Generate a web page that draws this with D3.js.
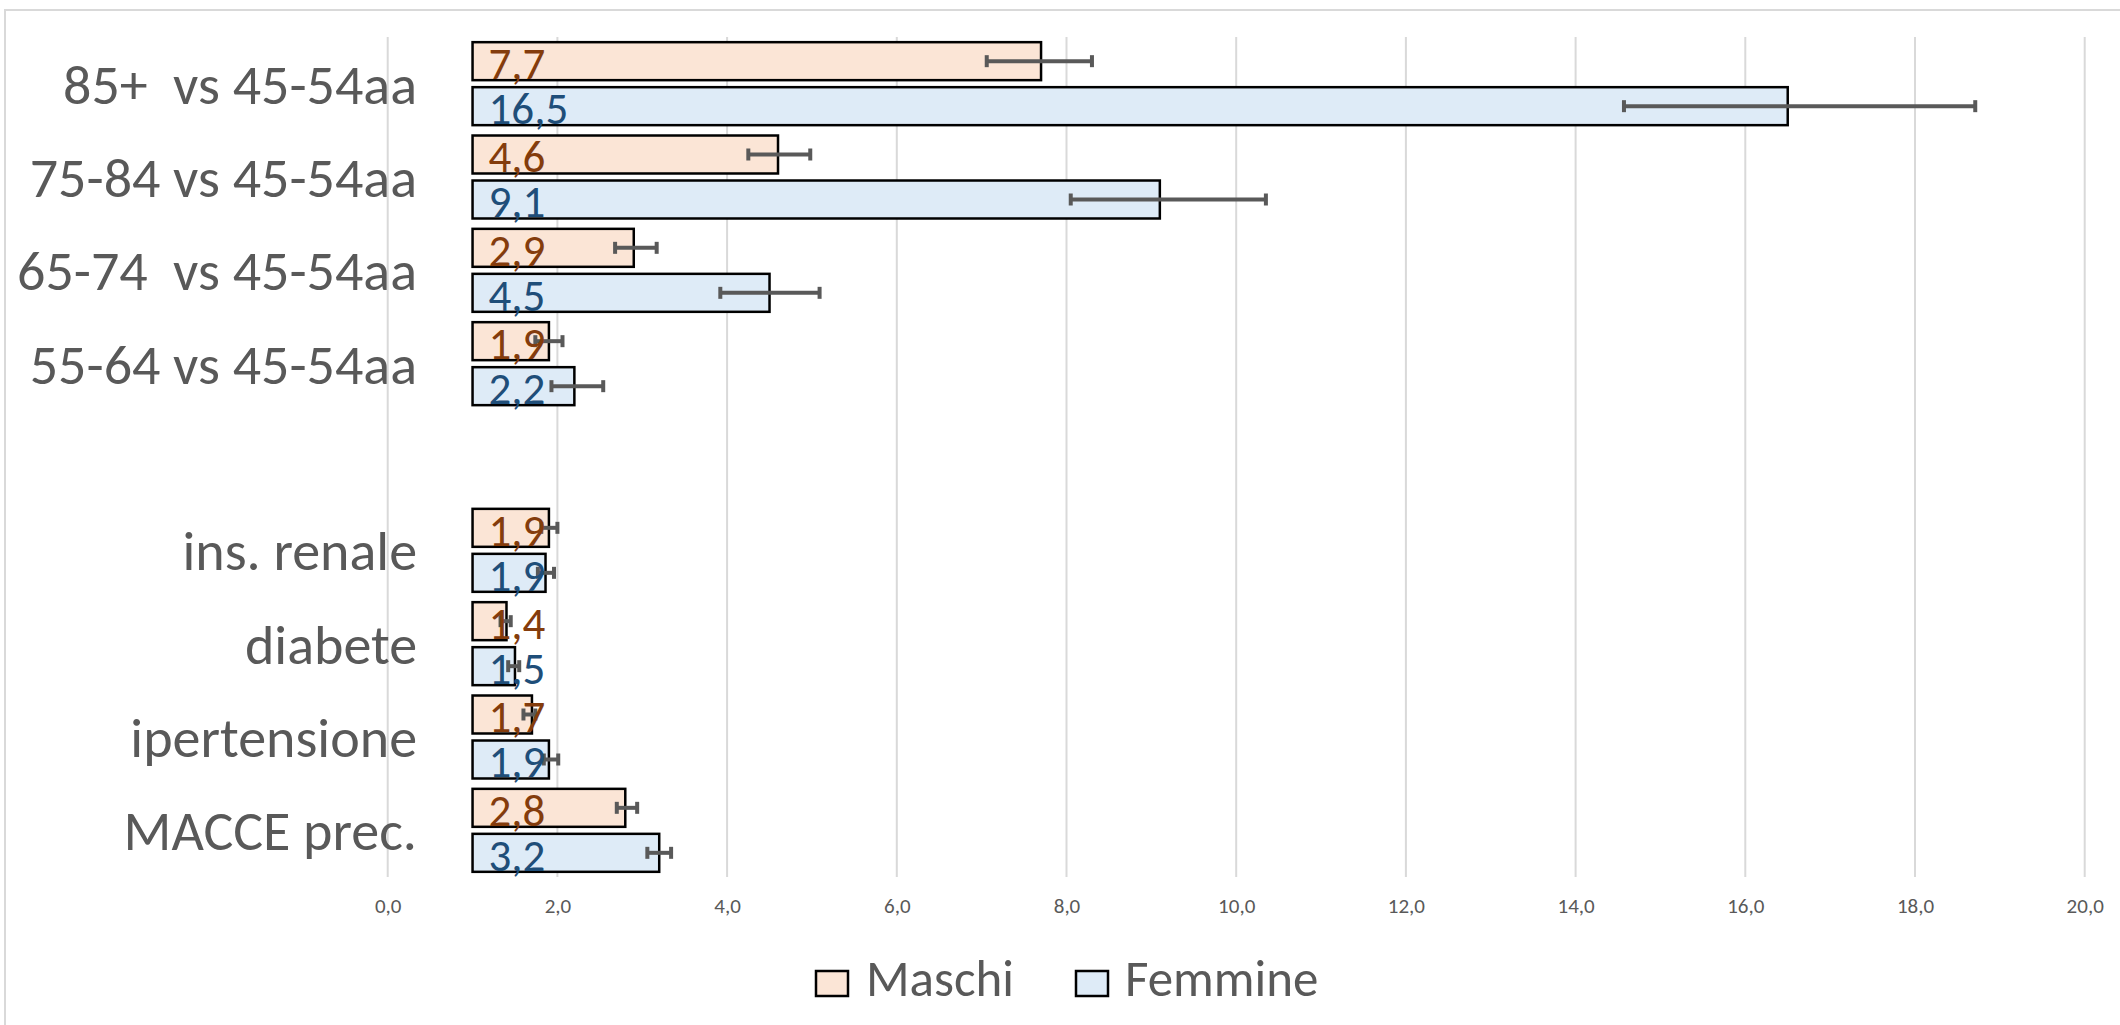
<!DOCTYPE html>
<html>
<head>
<meta charset="utf-8">
<script src="https://cdn.jsdelivr.net/npm/d3@7"></script>
<style>
  html, body { margin: 0; padding: 0; background: #ffffff; }
  svg { display: block; }
  text { font-family: Carlito, Lato, "Noto Sans", sans-serif; white-space: pre; }
</style>
</head>
<body>
<svg id="chart" width="2120" height="1025"></svg>
<script>
// ---- data ----
const categories = ["85+  vs 45-54aa", "75-84 vs 45-54aa", "65-74  vs 45-54aa", "55-64 vs 45-54aa", "", "ins. renale", "diabete", "ipertensione", "MACCE prec."];
const seriesNames = ["Maschi", "Femmine"];
const maschi      = [7.7, 4.6, 2.9, 1.9, null, 1.9, 1.4, 1.7, 2.8];
const femmine     = [16.5, 9.1, 4.5, 2.2, null, 1.86, 1.5, 1.9, 3.2];
const maschiLow   = [7.06, 4.25, 2.68, 1.74, null, 1.81, 1.33, 1.60, 2.70];
const maschiHigh  = [8.30, 4.98, 3.17, 2.06, null, 2.00, 1.45, 1.74, 2.94];
const femmineLow  = [14.57, 8.05, 3.92, 1.93, null, 1.77, 1.42, 1.84, 3.06];
const femmineHigh = [18.71, 10.35, 5.09, 2.54, null, 1.96, 1.55, 2.01, 3.34];
const xTicks = [0, 2, 4, 6, 8, 10, 12, 14, 16, 18, 20];
const baseValue = 1;

// ---- styles ----
const fills = { Maschi: "#FBE5D6", Femmine: "#DEEBF7" };
const labelColors = { Maschi: "#843C0C", Femmine: "#1F4E79" };
const gray = "#595959";

const svg = d3.select("#chart");
const locale = d3.formatLocale({ decimal: ",", thousands: ".", grouping: [3], currency: ["", "€"] });
const fmt = locale.format(".1f");

// chart border
svg.append("rect").attr("x", 5).attr("y", 10).attr("width", 2130).attr("height", 1030)
  .attr("fill", "none").attr("stroke", "#d9d9d9").attr("stroke-width", 2);

const x = d3.scaleLinear().domain([0, 20]).range([387.7, 2084.7]);
const y = d3.scaleBand().domain(categories.map((c, i) => i)).range([37, 877]).paddingInner(0).paddingOuter(0);
const ySub = d3.scaleBand().domain(seriesNames).range([0, y.bandwidth()]).paddingInner(0.156).paddingOuter(0.115);

// gridlines
svg.append("g").selectAll("line").data(xTicks).join("line")
  .attr("x1", d => x(d)).attr("x2", d => x(d))
  .attr("y1", 37).attr("y2", 877)
  .attr("stroke", "#d9d9d9").attr("stroke-width", 2);

// x axis labels
const xAxis = d3.axisBottom(x).tickValues(xTicks).tickFormat(fmt).tickSize(0).tickPadding(0);
const gx = svg.append("g").attr("transform", "translate(0,913)").call(xAxis);
gx.select(".domain").remove();
gx.selectAll("text").attr("dy", null).attr("y", 0)
  .attr("fill", gray).style("font-size", "21px").style("font-family", "Carlito, Lato, sans-serif");

// category labels
svg.append("g").selectAll("text").data(categories).join("text")
  .attr("x", 417)
  .attr("y", (d, i) => y(i) + y.bandwidth() / 2 + 20)
  .attr("text-anchor", "end")
  .attr("fill", gray)
  .style("font-size", "56px")
  .text(d => d);

// build rows
const rows = [];
categories.forEach((c, i) => {
  if (maschi[i] != null) rows.push({ i, s: "Maschi", v: maschi[i], lo: maschiLow[i], hi: maschiHigh[i] });
  if (femmine[i] != null) rows.push({ i, s: "Femmine", v: femmine[i], lo: femmineLow[i], hi: femmineHigh[i] });
});

const bars = svg.append("g");
bars.selectAll("rect").data(rows).join("rect")
  .attr("x", d => x(baseValue))
  .attr("y", d => y(d.i) + ySub(d.s))
  .attr("width", d => x(d.v) - x(baseValue))
  .attr("height", ySub.bandwidth())
  .attr("fill", d => fills[d.s])
  .attr("stroke", "#000")
  .attr("stroke-width", 2.5);

// error bars
const eb = svg.append("g").attr("stroke", gray).attr("stroke-width", 4);
rows.forEach(d => {
  const cy = y(d.i) + ySub(d.s) + ySub.bandwidth() / 2;
  eb.append("line").attr("x1", x(d.lo)).attr("x2", x(d.hi)).attr("y1", cy).attr("y2", cy);
  eb.append("line").attr("x1", x(d.lo)).attr("x2", x(d.lo)).attr("y1", cy - 6).attr("y2", cy + 6);
  eb.append("line").attr("x1", x(d.hi)).attr("x2", x(d.hi)).attr("y1", cy - 6).attr("y2", cy + 6);
});

// data labels
svg.append("g").selectAll("text").data(rows).join("text")
  .attr("x", d => x(baseValue) + 16)
  .attr("y", d => y(d.i) + ySub(d.s) + ySub.bandwidth() - 1)
  .attr("fill", d => labelColors[d.s])
  .style("font-size", "45px")
  .text(d => fmt(d.v));

// legend
const legend = svg.append("g");
const legendItems = [{ s: "Maschi", bx: 816, tx: 866 }, { s: "Femmine", bx: 1076, tx: 1125 }];
legendItems.forEach(it => {
  legend.append("rect").attr("x", it.bx).attr("y", 971).attr("width", 32).attr("height", 25)
    .attr("fill", fills[it.s]).attr("stroke", "#000").attr("stroke-width", 2.5);
  legend.append("text").attr("x", it.tx).attr("y", 996).attr("fill", gray)
    .style("font-size", "51px").text(it.s);
});
</script>
</body>
</html>
